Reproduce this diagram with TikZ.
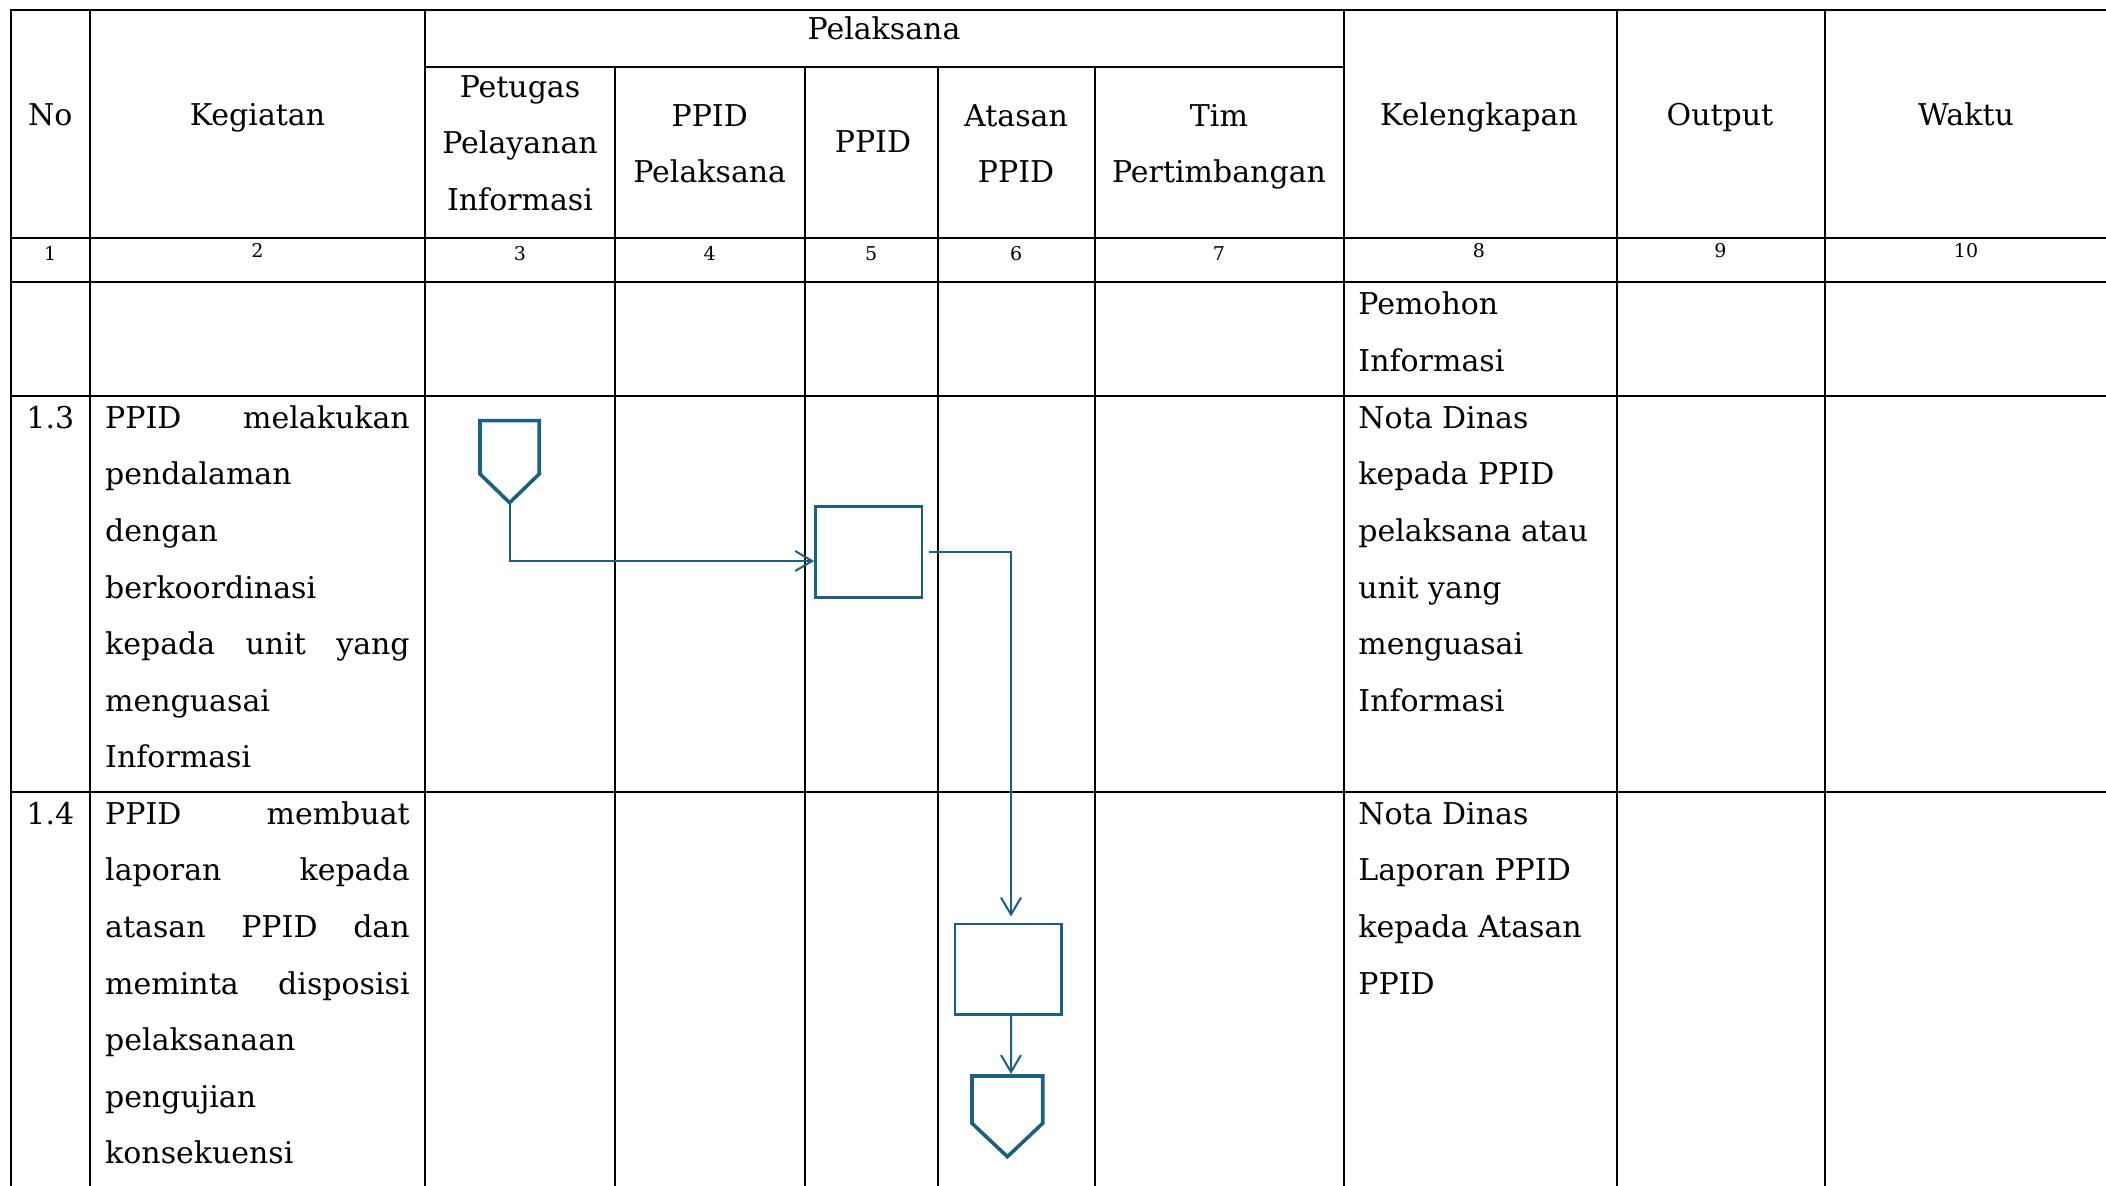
\documentclass[tikz,border=0pt]{standalone}
\usepackage{fontspec}
\setmainfont{DejaVu Serif}
\usepackage{tikz}
\usetikzlibrary{arrows.meta, calc}

\definecolor{flowblue}{RGB}{27,96,131}
\newcommand{\bodyfont}{\fontsize{15pt}{28.3pt}\selectfont}
\newcommand{\numfont}{\fontsize{9.5pt}{12pt}\selectfont}
\newcommand{\firstline}{\rule{0pt}{16pt}}
\newlength{\kegw}\setlength{\kegw}{152.25pt}
\newcommand{\spread}[1]{\makebox[\kegw][s]{#1}}

\tikzset{
  tabline/.style = {line width=1pt, black, line cap=rect},
  hd/.style = {inner sep=0pt, font=\bodyfont, anchor=base},
  hdm/.style = {inner sep=0pt, font=\bodyfont, anchor=north, align=center},
  cell/.style = {inner sep=0pt, font=\bodyfont, anchor=north west, align=left},
  num/.style = {inner sep=0pt, font=\numfont, anchor=base},
  procbox/.style = {draw=flowblue, line width=1.35pt, minimum width=53.2pt, minimum height=45.3pt, inner sep=0pt},
  offpage/.style = {draw=flowblue, line width=1.8pt},
  flow/.style = {draw=flowblue, line width=1pt, -{Straight Barb[length=8.5pt, width=10pt]}}
}

\begin{document}
\begin{tikzpicture}[x=0.5pt, y=-0.5pt]
\useasboundingbox (0,0) rectangle (2106,1186);

% table rules
\draw[tabline] (10.5,10.5) -- (2106,10.5);
\draw[tabline] (425,67) -- (1343.5,67);
\draw[tabline] (10.5,237.7) -- (2106,237.7);
\draw[tabline] (10.5,282.5) -- (2106,282.5);
\draw[tabline] (10.5,396) -- (2106,396);
\draw[tabline] (10.5,792) -- (2106,792);
\foreach \x in {10.5, 90, 425, 1343.5, 1617, 1825}
  \draw[tabline] (\x,10.5) -- (\x,1186);
\foreach \x in {615, 804.5, 938, 1094.5}
  \draw[tabline] (\x,67) -- (\x,1186);

% header
\node[hd] (h-no) at (50.2,126) {No};
\node[hd] (h-keg) at (257.5,126) {Kegiatan};
\node[hd] (h-pel) at (884,39.3) {Pelaksana};
\node[hdm] (h-petugas) at (520,64.7) {\firstline Petugas\\Pelayanan\\Informasi};
\node[hdm] (h-ppidpel) at (709.7,94) {\firstline PPID\\Pelaksana};
\node[hd] (h-ppid) at (873,153) {PPID};
\node[hdm] (h-atasan) at (1016,94) {\firstline Atasan\\PPID};
\node[hdm] (h-tim) at (1219,94) {\firstline Tim\\Pertimbangan};
\node[hd] (h-kel) at (1479,126) {Kelengkapan};
\node[hd] (h-out) at (1720,126) {Output};
\node[hd] (h-waktu) at (1966,126) {Waktu};

% column numbers
\foreach \x/\n/\b in {50.2/1/261, 257.5/2/258, 520/3/261, 709.7/4/261, 871.2/5/261,
    1016.2/6/261, 1219/7/261, 1479/8/258, 1720.5/9/258, 1966/10/258}
  \node[num] (n-\n) at (\x,\b) {\n};

% rows
\node[cell] (kel-0) at (1358,282.5) {\firstline Pemohon\\Informasi};

\node[hd] (no-13) at (50.3,428.3) {1.3};
\node[cell, text width=\kegw] (keg-13) at (104.8,396) {\firstline\spread{PPID\hfill melakukan}\\pendalaman\\dengan\\berkoordinasi\\\spread{kepada\hfill unit\hfill yang}\\menguasai\\Informasi};
\node[cell] (kel-13) at (1358,396) {\firstline Nota Dinas\\kepada PPID\\pelaksana atau\\unit yang\\menguasai\\Informasi};

\node[hd] (no-14) at (50.3,824.3) {1.4};
\node[cell, text width=\kegw] (keg-14) at (104.8,792) {\firstline\spread{PPID\hfill membuat}\\\spread{laporan\hfill kepada}\\\spread{atasan\hfill PPID\hfill dan}\\\spread{meminta\hfill disposisi}\\pelaksanaan\\pengujian\\konsekuensi};
\node[cell] (kel-14) at (1358,792) {\firstline Nota Dinas\\Laporan PPID\\kepada Atasan\\PPID};

% flow symbols
\draw[offpage] (480,420.7) -- (539.2,420.7) -- (539.2,474) -- (509.6,502.7) -- (480,474) -- cycle;
\coordinate (offa-tip) at (509.6,502.7);
\node[procbox] (box-ppid) at (868.7,552) {};
\node[procbox] (box-atasan) at (1008.2,969.2) {};
\draw[offpage] (972,1076) -- (1042.7,1076) -- (1042.7,1123.3) -- (1007.4,1156.7) -- (972,1123.3) -- cycle;
\coordinate (offb-top) at (1011,1074);

% connectors
\draw[flow] (offa-tip) |- ($(box-ppid.west)+(0,9)$);
\draw[flow, shorten <=3pt, shorten >=3pt] (box-ppid.east) -| ($(box-atasan.north)+(2.8,0)$);
\draw[flow] ($(box-atasan.south)+(2.8,0)$) -- (offb-top);
\end{tikzpicture}
\end{document}
